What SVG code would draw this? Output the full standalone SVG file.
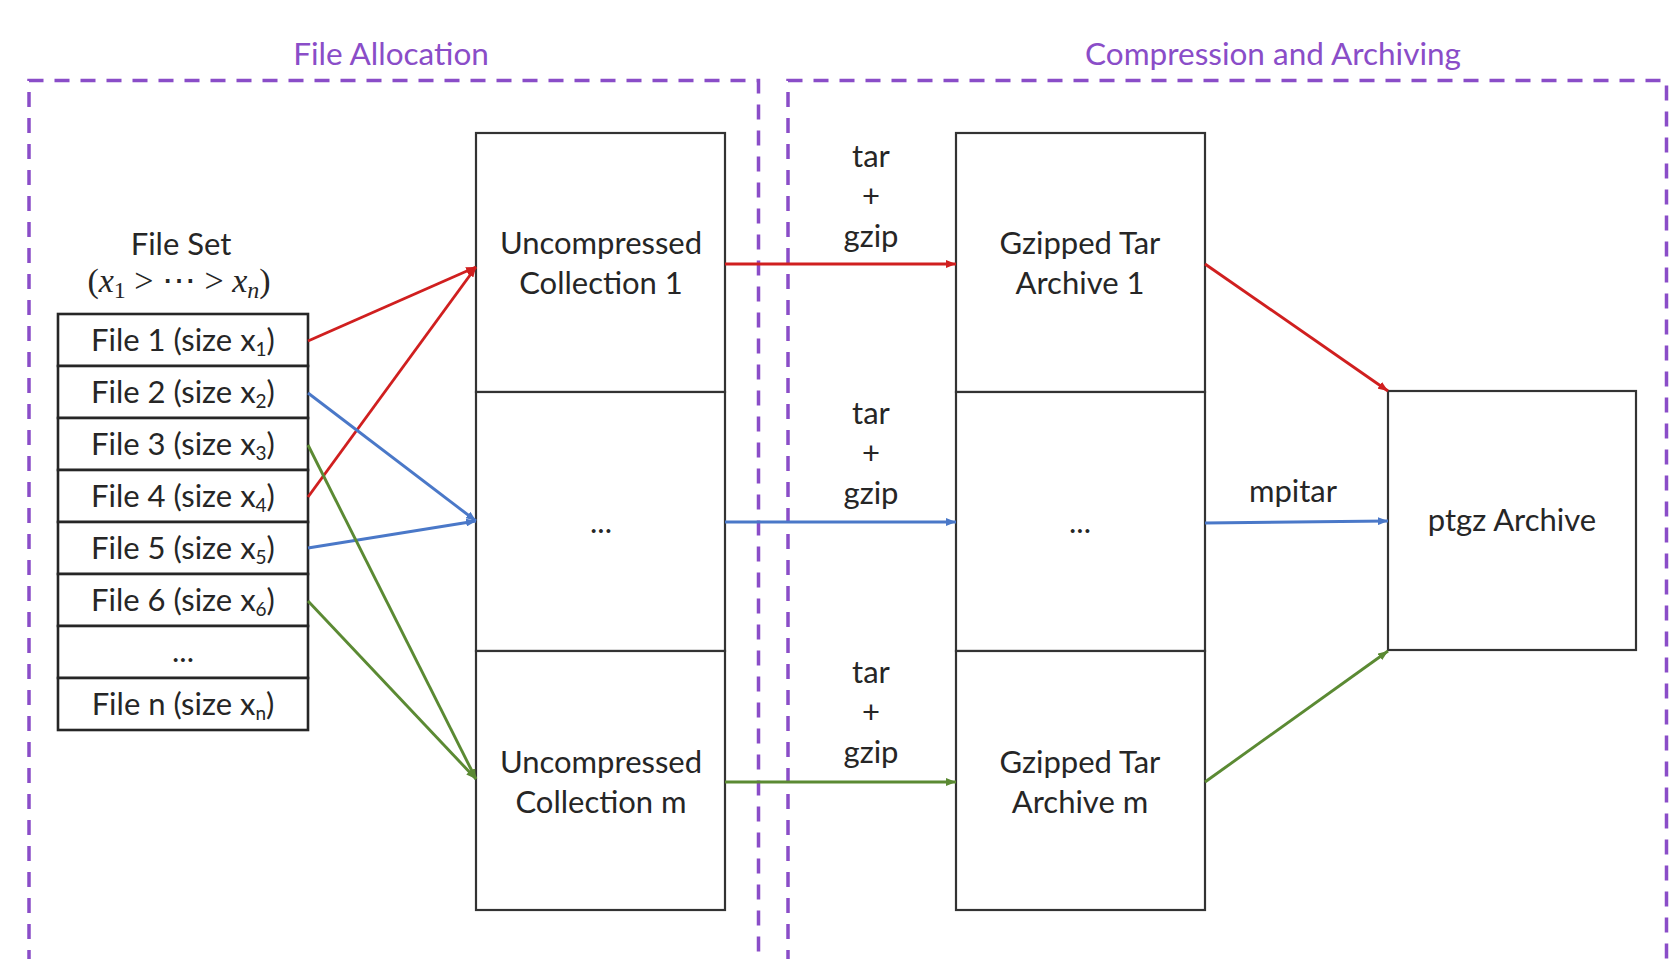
<svg xmlns="http://www.w3.org/2000/svg" width="1669" height="959" viewBox="0 0 1669 959">
  <style>
    .bg { fill: #ffffff; }
    .stage { fill: none; stroke: #8a4dc8; stroke-width: 3.5; stroke-dasharray: 15 11; }
    .stage-title { font-family: Lato, "Liberation Sans", sans-serif; font-size: 31.5px; fill: #8a4dc8; text-anchor: middle; }
    .box { fill: #ffffff; stroke: #333333; stroke-width: 2.2; }
    .row { fill: #ffffff; stroke: #262626; stroke-width: 2.6; }
    .lbl { font-family: Lato, "Liberation Sans", sans-serif; font-size: 31px; fill: #262626; text-anchor: middle; }
    .sub { font-size: 19px; }
    .math { font-family: "Liberation Serif", "DejaVu Serif", serif; font-size: 34px; fill: #262626; text-anchor: middle; }
    .msub { font-size: 24px; }
    .edge { fill: none; stroke-width: 2.9; }
    .red { stroke: #d01f1f; }
    .blue { stroke: #4a78c8; }
    .green { stroke: #5b8a33; }
  </style>
  <defs>
    <marker id="ah-red" viewBox="0 0 10 8" refX="10" refY="4" markerWidth="10" markerHeight="8" markerUnits="userSpaceOnUse" orient="auto">
      <path d="M0,0 L10,4 L0,8 z" fill="#d01f1f"/>
    </marker>
    <marker id="ah-blue" viewBox="0 0 10 8" refX="10" refY="4" markerWidth="10" markerHeight="8" markerUnits="userSpaceOnUse" orient="auto">
      <path d="M0,0 L10,4 L0,8 z" fill="#4a78c8"/>
    </marker>
    <marker id="ah-green" viewBox="0 0 10 8" refX="10" refY="4" markerWidth="10" markerHeight="8" markerUnits="userSpaceOnUse" orient="auto">
      <path d="M0,0 L10,4 L0,8 z" fill="#5b8a33"/>
    </marker>
  </defs>

  <rect class="bg" x="0" y="0" width="1669" height="959"/>

  <!-- Stage frames (open at the bottom edge) -->
  <g id="stage-allocation">
    <path class="stage" d="M29,965 L29,80.5 L758.5,80.5 L758.5,965"/>
    <text class="stage-title" x="391" y="65">File Allocation</text>
  </g>
  <g id="stage-compression">
    <path class="stage" d="M788,965 L788,80.5 L1666.5,80.5 L1666.5,965"/>
    <text class="stage-title" x="1273" y="65">Compression and Archiving</text>
  </g>

  <!-- File set list -->
  <g id="file-set">
    <text class="lbl" x="181" y="255">File Set</text>
    <text class="math" x="179" y="292">(<tspan font-style="italic">x</tspan><tspan class="msub" dy="6">1</tspan><tspan dy="-6"> &gt; ⋯ &gt; </tspan><tspan font-style="italic">x</tspan><tspan class="msub" font-style="italic" dy="6">n</tspan><tspan dy="-6">)</tspan></text>
    <rect class="row" x="58" y="314" width="250" height="52"/>
    <rect class="row" x="58" y="366" width="250" height="52"/>
    <rect class="row" x="58" y="418" width="250" height="52"/>
    <rect class="row" x="58" y="470" width="250" height="52"/>
    <rect class="row" x="58" y="522" width="250" height="52"/>
    <rect class="row" x="58" y="574" width="250" height="52"/>
    <rect class="row" x="58" y="626" width="250" height="52"/>
    <rect class="row" x="58" y="678" width="250" height="52"/>
    <text class="lbl" x="183" y="351">File 1 (size x<tspan class="sub" dy="5">1</tspan><tspan dy="-5">)</tspan></text>
    <text class="lbl" x="183" y="403">File 2 (size x<tspan class="sub" dy="5">2</tspan><tspan dy="-5">)</tspan></text>
    <text class="lbl" x="183" y="455">File 3 (size x<tspan class="sub" dy="5">3</tspan><tspan dy="-5">)</tspan></text>
    <text class="lbl" x="183" y="507">File 4 (size x<tspan class="sub" dy="5">4</tspan><tspan dy="-5">)</tspan></text>
    <text class="lbl" x="183" y="559">File 5 (size x<tspan class="sub" dy="5">5</tspan><tspan dy="-5">)</tspan></text>
    <text class="lbl" x="183" y="611">File 6 (size x<tspan class="sub" dy="5">6</tspan><tspan dy="-5">)</tspan></text>
    <text class="lbl" x="183" y="662">...</text>
    <text class="lbl" x="183" y="715">File n (size x<tspan class="sub" dy="5">n</tspan><tspan dy="-5">)</tspan></text>
  </g>

  <!-- Uncompressed collections -->
  <g id="collection-1">
    <rect class="box" x="476" y="133" width="249" height="259"/>
    <text class="lbl" x="601" y="254">Uncompressed</text>
    <text class="lbl" x="601" y="294">Collection 1</text>
  </g>
  <g id="collection-mid">
    <rect class="box" x="476" y="392" width="249" height="259"/>
    <text class="lbl" x="601" y="533">...</text>
  </g>
  <g id="collection-m">
    <rect class="box" x="476" y="651" width="249" height="259"/>
    <text class="lbl" x="601" y="773">Uncompressed</text>
    <text class="lbl" x="601" y="813">Collection m</text>
  </g>

  <!-- Gzipped tar archives -->
  <g id="archive-1">
    <rect class="box" x="956" y="133" width="249" height="259"/>
    <text class="lbl" x="1080" y="254">Gzipped Tar</text>
    <text class="lbl" x="1080" y="294">Archive 1</text>
  </g>
  <g id="archive-mid">
    <rect class="box" x="956" y="392" width="249" height="259"/>
    <text class="lbl" x="1080" y="533">...</text>
  </g>
  <g id="archive-m">
    <rect class="box" x="956" y="651" width="249" height="259"/>
    <text class="lbl" x="1080" y="773">Gzipped Tar</text>
    <text class="lbl" x="1080" y="813">Archive m</text>
  </g>

  <!-- Final archive -->
  <g id="ptgz-archive">
    <rect class="box" x="1388" y="391" width="248" height="259"/>
    <text class="lbl" x="1512" y="531">ptgz Archive</text>
  </g>

  <!-- Connectors -->
  <g id="connectors">
    <line class="edge red" x1="308" y1="341" x2="476" y2="267" marker-end="url(#ah-red)"/>
    <line class="edge red" x1="308" y1="497" x2="476" y2="267" marker-end="url(#ah-red)"/>
    <line class="edge blue" x1="308" y1="393" x2="476" y2="521" marker-end="url(#ah-blue)"/>
    <line class="edge blue" x1="308" y1="548" x2="476" y2="521" marker-end="url(#ah-blue)"/>
    <line class="edge green" x1="308" y1="445" x2="476" y2="779" marker-end="url(#ah-green)"/>
    <line class="edge green" x1="308" y1="601" x2="476" y2="779" marker-end="url(#ah-green)"/>

    <line class="edge red" x1="725" y1="264" x2="956" y2="264" marker-end="url(#ah-red)"/>
    <line class="edge blue" x1="725" y1="522" x2="956" y2="522" marker-end="url(#ah-blue)"/>
    <line class="edge green" x1="725" y1="782" x2="956" y2="782" marker-end="url(#ah-green)"/>

    <line class="edge red" x1="1205" y1="264" x2="1388" y2="391" marker-end="url(#ah-red)"/>
    <line class="edge blue" x1="1205" y1="523" x2="1388" y2="521" marker-end="url(#ah-blue)"/>
    <line class="edge green" x1="1205" y1="782" x2="1388" y2="651" marker-end="url(#ah-green)"/>

    <!-- step labels -->
    <text class="lbl" x="871" y="167">tar</text>
    <text class="lbl" x="871" y="207">+</text>
    <text class="lbl" x="871" y="247">gzip</text>
    <text class="lbl" x="871" y="424">tar</text>
    <text class="lbl" x="871" y="464">+</text>
    <text class="lbl" x="871" y="504">gzip</text>
    <text class="lbl" x="871" y="683">tar</text>
    <text class="lbl" x="871" y="723">+</text>
    <text class="lbl" x="871" y="763">gzip</text>
    <text class="lbl" x="1293" y="502">mpitar</text>
  </g>
</svg>
